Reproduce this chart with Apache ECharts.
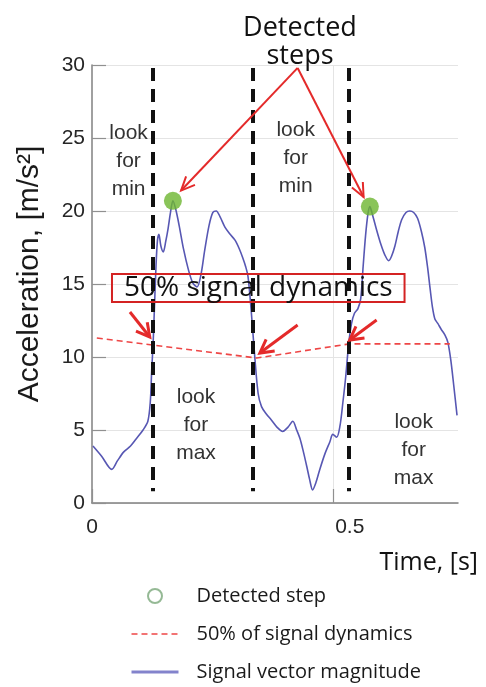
<!DOCTYPE html>
<html>
<head>
<meta charset="utf-8">
<script src="https://cdn.jsdelivr.net/npm/echarts@6/dist/echarts.min.js"></script>
<style>
html, body { margin: 0; padding: 0; background: #ffffff; }
#chart { width: 486px; height: 687px; }
</style>
</head>
<body>
<div id="chart"></div>
<script>
// Signal vector magnitude over one stride window (time in s, acceleration in m/s^2)
const time = [
  0.002, 0.020, 0.041, 0.053, 0.066, 0.080, 0.092, 0.106, 0.116, 0.121,
  0.124, 0.127, 0.130, 0.133, 0.136, 0.139, 0.143, 0.148, 0.153, 0.158,
  0.163, 0.168, 0.174, 0.181, 0.190, 0.200, 0.209, 0.218, 0.226, 0.234,
  0.243, 0.251, 0.258, 0.266, 0.276, 0.287, 0.297, 0.306, 0.313, 0.319,
  0.324, 0.331, 0.338, 0.345, 0.352, 0.362, 0.372, 0.384, 0.396, 0.407,
  0.417, 0.425, 0.432, 0.439, 0.446, 0.452, 0.458, 0.465, 0.473, 0.484,
  0.494, 0.500, 0.508, 0.515, 0.521, 0.527, 0.533, 0.539, 0.545, 0.552,
  0.558, 0.563, 0.568, 0.573, 0.577, 0.582, 0.591, 0.600, 0.608, 0.616,
  0.622, 0.629, 0.636, 0.643, 0.652, 0.660, 0.668, 0.676, 0.684, 0.691,
  0.697, 0.702, 0.707, 0.712, 0.718, 0.725, 0.733, 0.739, 0.745, 0.751,
  0.758
];
const svm = [
  3.9, 3.2, 2.3, 2.9, 3.5, 3.9, 4.4, 5.0, 5.6, 6.9,
  9.1, 11.0, 13.7, 16.3, 18.0, 18.4, 17.6, 17.2, 17.9, 18.8,
  19.9, 20.7, 20.1, 19.0, 17.4, 16.0, 15.1, 14.8, 15.6, 17.3,
  19.0, 19.9, 20.0, 19.6, 18.9, 18.4, 18.0, 17.4, 16.8, 16.2,
  15.5, 13.0, 10.0, 7.5, 6.6, 6.1, 5.7, 5.2, 4.9, 5.2,
  5.6, 5.0, 4.4, 3.5, 2.5, 1.6, 0.9, 1.4, 2.3, 3.4,
  4.2, 4.7, 4.5, 5.3, 6.9, 8.7, 10.9, 12.3, 13.0, 13.3,
  14.0, 16.2, 18.3, 19.8, 20.3, 19.8, 18.7, 17.7, 17.0, 16.6,
  16.9, 17.6, 18.6, 19.4, 19.9, 20.0, 19.9, 19.5, 18.6, 17.5,
  16.1, 14.7, 13.4, 12.6, 12.3, 11.9, 11.5, 11.0, 9.8, 8.1,
  6.0
];

// 50 % of signal dynamics threshold
const thresholdTime = [0.010, 0.342, 0.535, 0.743];
const thresholdValue = [11.3, 9.93, 10.9, 10.9];

// Detected steps (peaks)
const stepTime = [0.168, 0.577];
const stepValue = [20.7, 20.3];

// Search-window boundaries and their vertical extent
const boundaryTime = [0.127, 0.334, 0.533];
const boundaryExtent = [29.8, 0.8];

// Axis ticks
const xTicks = [0, 0.5];
const yTicks = [0, 5, 10, 15, 20, 25, 30];

const zip = (a, b) => a.map((v, i) => [v, b[i]]);

const chart = echarts.init(document.getElementById('chart'), null, { renderer: 'canvas' });

const tickFont = 'Liberation Sans, Arial, sans-serif';
const uiFont = 'Open Sans, Noto Sans, sans-serif';

const option = {
  animation: false,
  backgroundColor: '#ffffff',
  title: {
    text: 'Detected\nsteps',
    left: 295,
    textAlign: 'center',
    top: 9,
    textStyle: { fontFamily: uiFont, fontSize: 27, fontWeight: 'normal', color: '#111', lineHeight: 28 }
  },
  grid: { left: 92, right: 28, top: 65, bottom: 184, containLabel: false },
  legend: {
    orient: 'vertical',
    left: 130,
    top: 586,
    padding: 0,
    itemWidth: 47,
    itemHeight: 14,
    itemGap: 18,
    selectedMode: false,
    textStyle: { fontFamily: uiFont, fontSize: 20, color: '#1a1a1a', padding: [0, 0, 0, 13] },
    data: [
      { name: 'Detected step', icon: 'emptyCircle', itemStyle: { color: '#7aa87a', borderColor: '#7aa87a', borderWidth: 2 } },
      { name: '50% of signal dynamics', itemStyle: { opacity: 0 }, lineStyle: { width: 1.5 } },
      { name: 'Signal vector magnitude', itemStyle: { opacity: 0 }, lineStyle: { width: 3, color: '#8383cc' } }
    ]
  },
  xAxis: {
    type: 'value',
    min: 0,
    max: 0.76,
    interval: 0.5,
    name: 'Time, [s]',
    nameLocation: 'end',
    nameGap: 20,
    nameTextStyle: {
      fontFamily: uiFont, fontSize: 25, color: '#111',
      align: 'right', verticalAlign: 'top', padding: [47, 0, 0, 0]
    },
    axisLine: { lineStyle: { color: '#808080', width: 1.5 } },
    axisTick: { inside: true, length: 14, customValues: xTicks, lineStyle: { color: '#909090', width: 1.2 } },
    axisLabel: {
      customValues: xTicks,
      margin: 14,
      fontFamily: tickFont,
      fontSize: 21,
      color: '#262626',
      formatter: v => (v === 0.5 ? '{s|0.5}' : '{n|' + v + '}'),
      rich: { s: { padding: [0, 0, 0, 34] }, n: {} }
    },
    splitLine: { show: true, showMinLine: false, lineStyle: { color: '#e4e4e4', width: 1 } }
  },
  yAxis: {
    type: 'value',
    min: 0,
    max: 30,
    interval: 5,
    name: 'Acceleration, [m/s²]',
    nameLocation: 'middle',
    nameRotate: 90,
    nameGap: 47,
    nameTextStyle: { fontFamily: tickFont, fontSize: 30, color: '#1a1a1a', padding: [0, 0, 0, 20] },
    axisLine: { show: true, lineStyle: { color: '#808080', width: 1.5 } },
    axisTick: { show: true, inside: true, length: 14, lineStyle: { color: '#909090', width: 1.2 } },
    axisLabel: {
      margin: 7, fontFamily: tickFont, fontSize: 21, color: '#262626',
      formatter: v => (yTicks.indexOf(v) >= 0 ? String(v) : '')
    },
    splitLine: { show: true, lineStyle: { color: '#e4e4e4', width: 1 } }
  },
  series: [
    {
      name: 'Signal vector magnitude',
      type: 'line',
      data: zip(time, svm),
      symbol: 'none',
      smooth: 0.3,
      lineStyle: { color: '#5757b3', width: 1.6 },
      itemStyle: { color: '#5757b3' },
      z: 3
    },
    {
      name: '50% of signal dynamics',
      type: 'line',
      data: zip(thresholdTime, thresholdValue),
      symbol: 'none',
      lineStyle: { color: '#ee4646', width: 1.6, type: [6, 4] },
      itemStyle: { color: '#ee4646' },
      z: 4
    },
    {
      name: 'boundaries',
      type: 'line',
      data: [],
      silent: true,
      z: 5,
      markLine: {
        silent: true,
        symbol: ['none', 'none'],
        label: { show: false },
        lineStyle: { color: '#111111', width: 4, type: [13, 8] },
        data: boundaryTime.map(t => [{ coord: [t, boundaryExtent[0]] }, { coord: [t, boundaryExtent[1]] }])
      }
    },
    {
      name: 'Detected step',
      type: 'scatter',
      data: zip(stepTime, stepValue),
      symbolSize: 18,
      itemStyle: { color: '#6db52f' },
      z: 8
    }
  ]
};

chart.setOption(option);

// ---- Annotations: window labels, threshold box and arrows ----
const px = p => chart.convertToPixel({ gridIndex: 0 }, p);
const red = '#e42a2a';

function arrow(fromD, toD, width, head, spread) {
  const a = px(fromD), b = px(toD);
  const ang = Math.atan2(b[1] - a[1], b[0] - a[0]);
  const h1 = [b[0] - head * Math.cos(ang - spread), b[1] - head * Math.sin(ang - spread)];
  const h2 = [b[0] - head * Math.cos(ang + spread), b[1] - head * Math.sin(ang + spread)];
  return [
    { type: 'line', z: 20, shape: { x1: a[0], y1: a[1], x2: b[0], y2: b[1] }, style: { stroke: red, lineWidth: width } },
    { type: 'polyline', z: 20, shape: { points: [h1, b, h2] }, style: { stroke: red, lineWidth: width, fill: null } }
  ];
}

const windowLabels = [
  { text: 'look\nfor\nmin', at: [0.076, 23.4] },
  { text: 'look\nfor\nmax', at: [0.216, 5.34] },
  { text: 'look\nfor\nmin', at: [0.423, 23.6] },
  { text: 'look\nfor\nmax', at: [0.668, 3.63] }
];

const graphics = [];
windowLabels.forEach(l => {
  const p = px(l.at);
  graphics.push({
    type: 'text', x: p[0], y: p[1], z: 15,
    style: {
      text: l.text, fill: '#333333', font: '21px Liberation Sans, Arial, sans-serif',
      align: 'center', verticalAlign: 'middle', lineHeight: 28
    }
  });
});

// Box around the threshold caption
const boxA = px([0.0415, 15.68]);
const boxB = px([0.649, 13.77]);
graphics.push({
  type: 'rect', z: 18,
  shape: { x: boxA[0], y: boxA[1], width: boxB[0] - boxA[0], height: boxB[1] - boxA[1] },
  style: { fill: null, stroke: '#d42323', lineWidth: 2 }
});
const cap = px([0.3454, 14.73]);
graphics.push({
  type: 'text', x: cap[0], y: cap[1], z: 19,
  style: { text: '50% signal dynamics', fill: '#111', font: '28px Open Sans, Noto Sans, sans-serif', align: 'center', verticalAlign: 'middle' }
});

// Arrows from the heading to the detected steps
const apex = [0.427, 29.8];
graphics.push(...arrow(apex, [0.185, 21.4], 2, 15, 0.42));
graphics.push(...arrow(apex, [0.564, 20.96], 2, 15, 0.42));

// Arrows at the threshold crossings
graphics.push(...arrow([0.0788, 13.08], [0.120, 11.37], 3, 15, 0.5));
graphics.push(...arrow([0.427, 12.19], [0.3485, 10.27], 3, 15, 0.5));
graphics.push(...arrow([0.591, 12.53], [0.535, 11.16], 3, 15, 0.5));

chart.setOption({ graphic: graphics });
</script>
</body>
</html>
